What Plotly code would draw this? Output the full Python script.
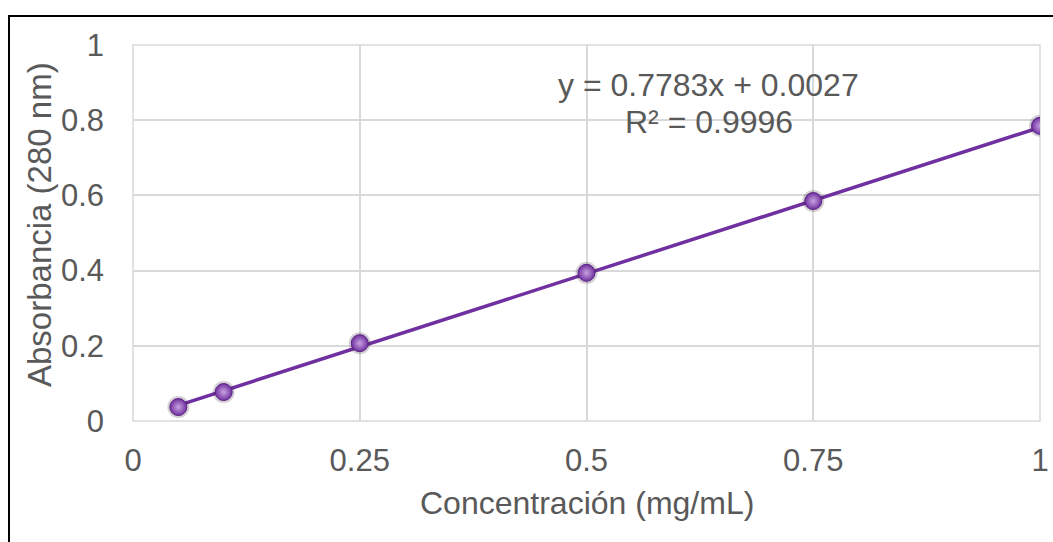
import plotly.graph_objects as go

# Calibration data: protein concentration vs absorbance at 280 nm
concentracion = [0.05, 0.1, 0.25, 0.5, 0.75, 1.0]
absorbancia = [0.037, 0.077, 0.207, 0.394, 0.585, 0.785]

# Linear trendline parameters
pendiente = 0.7783
intercepto = 0.0027
r2 = 0.9996

x_ticks = [0, 0.25, 0.5, 0.75, 1]
x_tick_text = ["0", "0.25", "0.5", "0.75", "1"]
y_ticks = [0, 0.2, 0.4, 0.6, 0.8, 1]
y_tick_text = ["0", "0.2", "0.4", "0.6", "0.8", "1"]

W, H = 1053, 542
ML, MR, MT, MB = 133, 13, 45, 121
plot_w = W - ML - MR
plot_h = H - MT - MB


def px_to_paper(px, py):
    return (px - ML) / plot_w, (H - MB - py) / plot_h


purple = "#7030A0"
gray_text = "#595959"
grid = "#D9D9D9"
font_family = "Liberation Sans, Arial, sans-serif"

fig = go.Figure()

# Trendline from the fit
x_fit = [concentracion[0], concentracion[-1]]
y_fit = [pendiente * x + intercepto for x in x_fit]
fig.add_trace(go.Scatter(
    x=x_fit, y=y_fit, mode="lines",
    line=dict(color=purple, width=3.5),
    hoverinfo="skip", showlegend=False,
))

# Marker shadows
fig.add_trace(go.Scatter(
    x=concentracion, y=absorbancia, mode="markers",
    marker=dict(size=22, color="rgba(60,40,70,0.22)", line=dict(width=0)),
    hoverinfo="skip", showlegend=False,
))

# Measured points
fig.add_trace(go.Scatter(
    x=concentracion, y=absorbancia, mode="markers",
    marker=dict(
        size=17, color=purple,
        gradient=dict(type="radial", color="#C9A3E0"),
        line=dict(color="#5A2385", width=1),
    ),
    showlegend=False,
))


def label(px, py, text, size, angle=0):
    ax, ay = px_to_paper(px, py)
    fig.add_annotation(
        x=ax, y=ay, xref="paper", yref="paper",
        xanchor="center", yanchor="middle",
        text=text, showarrow=False, textangle=angle,
        font=dict(family=font_family, size=size, color=gray_text),
    )


# Trendline equation and R²
label(708, 85, f"y = {pendiente}x + {intercepto}", 32)
label(709, 122, f"R² = {r2}", 32)

# Axis titles
label(587, 503, "Concentración (mg/mL)", 32)
label(39, 225, "Absorbancia (280 nm)", 33, angle=-90)

# Chart frame
fx0, fy1 = px_to_paper(9, 16)
fig.add_shape(
    type="rect", xref="paper", yref="paper",
    x0=fx0, x1=1.2, y0=-0.5, y1=fy1,
    line=dict(color="black", width=2), layer="above",
)

# Plot-area outline
fig.add_shape(
    type="rect", xref="paper", yref="paper", x0=0, x1=1, y0=0, y1=1,
    line=dict(color=grid, width=1.5), layer="below",
)

fig.update_xaxes(
    range=[0, 1], tickvals=x_ticks, ticktext=x_tick_text,
    showgrid=True, gridcolor=grid, gridwidth=1.5,
    showline=False, zeroline=False, automargin=False,
    ticks="", ticklabelstandoff=18,
    tickfont=dict(family=font_family, size=31, color=gray_text),
)
fig.update_yaxes(
    range=[0, 1], tickvals=y_ticks, ticktext=y_tick_text,
    showgrid=True, gridcolor=grid, gridwidth=1.5,
    showline=False, zeroline=False, automargin=False,
    ticks="", ticklabelstandoff=28,
    tickfont=dict(family=font_family, size=31, color=gray_text),
)

fig.update_layout(
    width=W, height=H,
    margin=dict(l=ML, r=MR, t=MT, b=MB),
    paper_bgcolor="white", plot_bgcolor="white",
    showlegend=False,
)

fig.write_html("out.html")
